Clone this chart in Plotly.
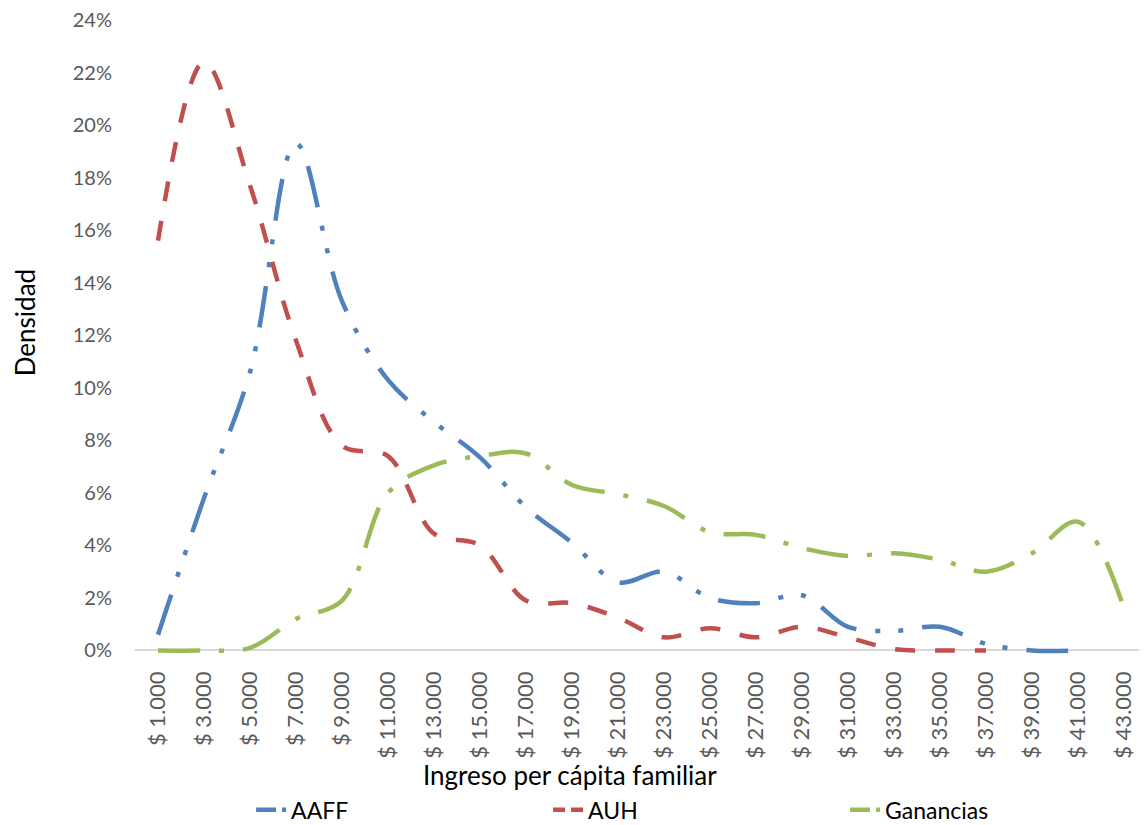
import plotly.graph_objects as go

# categories (income per capita) and density values in percent
ingreso = ["$ 1.000", "$ 3.000", "$ 5.000", "$ 7.000", "$ 9.000", "$ 11.000",
           "$ 13.000", "$ 15.000", "$ 17.000", "$ 19.000", "$ 21.000", "$ 23.000",
           "$ 25.000", "$ 27.000", "$ 29.000", "$ 31.000", "$ 33.000", "$ 35.000",
           "$ 37.000", "$ 39.000", "$ 41.000", "$ 43.000"]

aaff = [0.6, 5.8, 10.6, 19.3, 13.3, 10.3, 8.7, 7.35, 5.45, 4.1, 2.6, 3.0,
        2.0, 1.8, 2.1, 0.9, 0.75, 0.9, 0.25, 0.0, 0.0]
auh = [15.6, 22.4, 17.7, 11.8, 7.8, 7.4, 4.45, 4.0, 1.9, 1.8, 1.25, 0.5,
       0.85, 0.5, 0.9, 0.5, 0.05, 0.0, 0.0]
ganancias = [0.0, 0.0, 0.1, 1.2, 1.9, 6.0, 7.05, 7.4, 7.5, 6.3, 5.95, 5.5,
             4.5, 4.4, 3.9, 3.6, 3.7, 3.45, 3.0, 3.7, 4.9, 1.6]

y_ticks = list(range(0, 25, 2))
y_labels = [f"{v}%" for v in y_ticks]

series = [
    ("AAFF", aaff, "#4F81BD", "42px,19px,5px,18px,5px,19px", "20px,6px,4px,40px"),
    ("AUH", auh, "#C0504D", "20px,20px", "12px,6px,12px,40px"),
    ("Ganancias", ganancias, "#9BBB59", "42px,19px,5px,19px", "20px,6px,4px,40px"),
]

FONT = "Lato"

fig = go.Figure()

for name, vals, color, dash, legend_dash in series:
    fig.add_trace(go.Scatter(
        x=ingreso[:len(vals)],
        y=vals,
        name=name,
        mode="lines",
        line=dict(color=color, width=4.5, dash=dash, shape="spline", smoothing=1),
        showlegend=False,
        hoverinfo="x+y+name",
    ))
    # legend-only entry with a shorter dash so the sample shows dash + dot
    fig.add_trace(go.Scatter(
        x=[None], y=[None],
        name=name,
        mode="lines",
        line=dict(color=color, width=4.5, dash=legend_dash),
        showlegend=True,
    ))

# page body adds an 8px margin, so the figure is 8px smaller each way
fig.update_layout(
    width=1139,
    height=817,
    margin=dict(l=127, r=0, t=12, b=164, autoexpand=False),
    paper_bgcolor="white",
    plot_bgcolor="white",
    font=dict(family=FONT, color="#595959"),
    xaxis=dict(
        type="category",
        categoryorder="array",
        categoryarray=ingreso,
        range=[-0.5, 21.5],
        tickangle=-90,
        tickfont=dict(size=22, color="#595959", family=FONT),
        showgrid=False,
        showline=False,
        zeroline=False,
        ticks="",
        ticklabelstandoff=5,
        ticklabeloverflow="allow",
        automargin=False,
    ),
    yaxis=dict(
        range=[-0.4, 24],
        tickvals=y_ticks,
        ticktext=y_labels,
        tickfont=dict(size=20, color="#595959", family=FONT),
        showgrid=False,
        showline=False,
        zeroline=True,
        zerolinecolor="#D9D9D9",
        zerolinewidth=1.5,
        ticks="",
        ticklabelstandoff=22,
        ticklabeloverflow="allow",
        automargin=False,
    ),
    legend=dict(
        orientation="h",
        x=0.1147,
        xanchor="left",
        y=-0.232,
        yanchor="middle",
        font=dict(size=23, color="#000000", family=FONT),
        entrywidth=252,
        entrywidthmode="pixels",
        bgcolor="rgba(0,0,0,0)",
    ),
    annotations=[
        dict(text="Ingreso per cápita familiar", xref="paper", yref="paper",
             x=0.43, y=-0.1775, xanchor="center", yanchor="middle",
             showarrow=False, font=dict(size=26, color="#000000", family=FONT)),
        dict(text="Densidad", xref="paper", yref="paper",
             x=-0.1087, y=0.5285, xanchor="center", yanchor="middle",
             textangle=-90, showarrow=False, borderpad=0,
             font=dict(size=26, color="#000000", family=FONT)),
    ],
)

fig.write_html("out.html")
